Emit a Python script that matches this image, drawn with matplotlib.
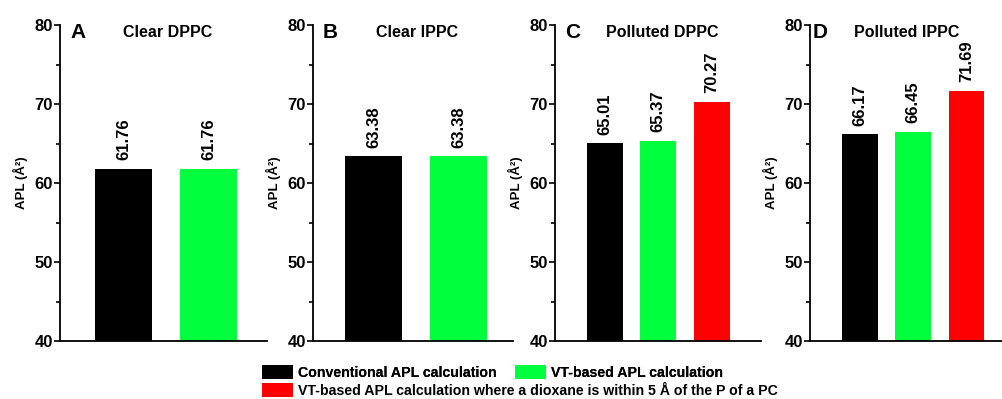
import matplotlib
matplotlib.use("Agg")
import matplotlib.pyplot as plt
from matplotlib.patches import Patch
from matplotlib.ticker import MultipleLocator

plt.rcParams['font.family'] = ['Liberation Sans', 'DejaVu Sans']
plt.rcParams['font.weight'] = 'bold'

# du lieu
panel_letters = ['A', 'B', 'C', 'D']
panel_titles = ['Clear DPPC', 'Clear IPPC', 'Polluted DPPC', 'Polluted IPPC']
conventional = [61.76, 63.38, 65.01, 66.17]
vt_based = [61.76, 63.38, 65.37, 66.45]
vt_dioxane = [None, None, 70.27, 71.69]
legend_labels = ['Conventional APL calculation', 'VT-based APL calculation',
                 'VT-based APL calculation where a dioxane is within 5 \u00c5 of the P of a PC']
bar_colors = ['#000000', '#00ff3c', '#ff0000']

W, H = 1003, 399
fig = plt.figure(figsize=(W / 100, H / 100), dpi=100)

# vi tri cac truc (pixel)
truc = [(60, 207, (0.253, 2.69)), (313, 200, (0.29, 2.64)),
        (555, 206, (0.07, 3.92)), (810, 193, (0.06, 3.69))]
y_top, y_bot = 25, 341

for i in range(4):
    x0, w, xl = truc[i]
    ax = fig.add_axes([x0 / W, 1 - y_bot / H, w / W, (y_bot - y_top) / H])
    vals = [conventional[i], vt_based[i]]
    if vt_dioxane[i] is not None:
        vals.append(vt_dioxane[i])
    xs = list(range(1, len(vals) + 1))
    ax.bar(xs, vals, width=0.67, color=bar_colors[:len(vals)], bottom=0)
    for x, v in zip(xs, vals):
        ax.text(x, v + 1.1, f"{v:.2f}", rotation=90, ha='center', va='bottom',
                fontsize=12, fontweight='bold')
    ax.set_ylim(40, 80)
    ax.set_xlim(*xl)
    ax.yaxis.set_major_locator(MultipleLocator(10))
    ax.yaxis.set_minor_locator(MultipleLocator(5))
    ax.set_xticks([])
    ax.spines['top'].set_visible(False)
    ax.spines['right'].set_visible(False)
    ax.spines['left'].set_linewidth(1.3)
    ax.spines['bottom'].set_linewidth(1.3)
    ax.tick_params(axis='y', which='major', length=4, width=1.2, labelsize=12, pad=1)
    ax.tick_params(axis='y', which='minor', length=3, width=1.2)
    for lb in ax.get_yticklabels():
        lb.set_fontweight('bold')
    ax.set_ylabel('APL (\u00c5\u00b2)', fontsize=9.5, fontweight='bold', labelpad=5)
    lx = 0.015 if i == 3 else 0.05
    ax.text(lx, 0.975, panel_letters[i], transform=ax.transAxes, ha='left', va='center',
            fontsize=15, fontweight='bold')
    ax.text(0.5 if i == 3 else 0.52, 0.975, panel_titles[i], transform=ax.transAxes,
            ha='center', va='center', fontsize=11.5, fontweight='bold')

handles = [Patch(facecolor=c, edgecolor='none') for c in bar_colors]
leg1 = fig.legend(handles[:2], legend_labels[:2], ncol=2, loc='upper left',
                  bbox_to_anchor=(262 / W, 1 - 365 / H), frameon=False,
                  prop={'size': 10.2, 'weight': 'bold'}, handlelength=2.2, handleheight=1.1,
                  handletextpad=0.35, columnspacing=1.3, borderpad=0, borderaxespad=0)
leg2 = fig.legend(handles[2:], legend_labels[2:], loc='upper left',
                  bbox_to_anchor=(262 / W, 1 - 383 / H), frameon=False,
                  prop={'size': 10.2, 'weight': 'bold'}, handlelength=2.2, handleheight=1.1,
                  handletextpad=0.35, borderpad=0, borderaxespad=0)
fig.add_artist(leg1)

fig.savefig('out.png', dpi=100)
